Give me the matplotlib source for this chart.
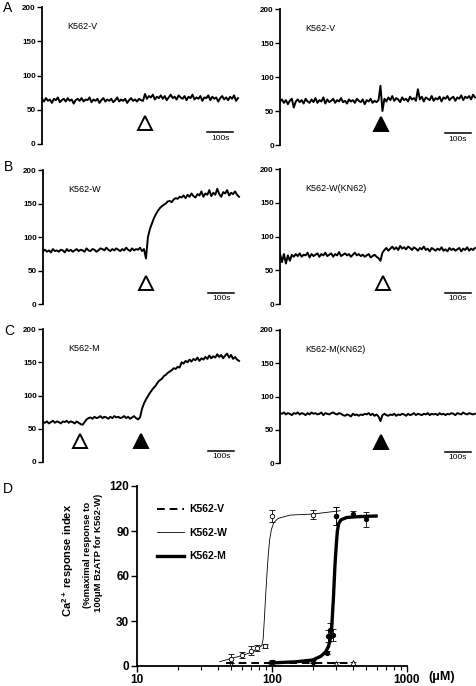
import numpy as np
import matplotlib
matplotlib.use('Agg')
import matplotlib.pyplot as plt
from matplotlib.lines import Line2D
from matplotlib.ticker import LogLocator, NullFormatter, FixedLocator, FixedFormatter

plt.rcParams['font.family'] = ['Liberation Sans', 'DejaVu Sans']
plt.rcParams['mathtext.fontset'] = 'custom'
plt.rcParams['mathtext.rm'] = 'Liberation Sans:bold'
plt.rcParams['mathtext.bf'] = 'Liberation Sans:bold'

# --- traces (fluorescence ratio, one sample every DT seconds) ---
DT = 7.6
trace_v = [66, 62, 67, 63, 65, 60, 66, 64, 68, 61, 64, 66, 62, 67, 63, 65, 59, 64, 66, 63,
           67, 62, 65, 64, 68, 61, 65, 63, 66, 60, 64, 67, 62, 65, 63, 66, 61, 64, 68, 62,
           65, 63, 66, 60, 64, 67, 63, 65, 62, 66, 64, 63, 73, 66, 70, 68, 72, 65, 69, 67,
           71, 66, 70, 64, 68, 72, 67, 69, 65, 71, 68, 66, 70, 64, 69, 67, 72, 65, 68, 66,
           70, 63, 68, 67, 71, 64, 69, 66, 68, 62, 67, 70, 65, 68, 64, 69, 66, 71, 63, 67]
trace_v2 = [64, 67, 62, 66, 60, 65, 68, 55, 64, 67, 63, 66, 61, 68, 64, 62, 67, 63, 69, 62,
            66, 64, 70, 61, 67, 63, 65, 68, 62, 66, 64, 69, 63, 65, 61, 67, 64, 66, 62, 68,
            65, 63, 67, 60, 66, 64, 68, 62, 65, 63, 66, 87, 50, 68, 64, 70, 66, 72, 65, 69,
            67, 63, 70, 66, 68, 64, 71, 67, 69, 65, 82, 67, 71, 64, 70, 68, 66, 72, 65, 69,
            67, 71, 64, 70, 68, 72, 66, 69, 71, 65, 70, 68, 73, 66, 71, 69, 72, 67, 74, 70]
trace_w = [79, 81, 78, 80, 77, 82, 79, 80, 78, 81, 80, 77, 82, 79, 81, 78, 80, 82, 79, 81,
           80, 78, 83, 80, 79, 82, 81, 78, 80, 83, 82, 80, 84, 81, 79, 82, 80, 83, 81, 79,
           82, 80, 84, 81, 79, 83, 80, 82, 81, 84, 79, 82, 68, 100, 112, 120, 128, 134, 139, 143,
           146, 148, 150, 153, 154, 152, 156, 158, 157, 160, 159, 162, 158, 163, 160, 165, 161, 159, 164, 162,
           168, 160, 165, 163, 170, 161, 166, 163, 172, 164, 160, 167, 165, 170, 162, 166, 164, 168, 163, 160]
trace_w_kn62 = [75, 62, 74, 60, 72, 64, 73, 70, 74, 71, 75, 70, 73, 72, 76, 69, 74, 71, 73, 75,
                70, 74, 72, 76, 71, 73, 75, 70, 74, 72, 77, 71, 73, 75, 72, 74, 70, 73, 76, 72,
                74, 71, 73, 70, 72, 74, 69, 71, 73, 70, 68, 64, 76, 80, 83, 79, 82, 85, 81, 84,
                80, 86, 82, 84, 81, 85, 83, 80, 84, 82, 79, 83, 81, 85, 80, 82, 78, 83, 81, 79,
                82, 80, 84, 79, 81, 78, 83, 80, 82, 79, 81, 83, 78, 82, 80, 84, 79, 82, 80, 83]
trace_m = [60, 59, 61, 58, 60, 62, 59, 61, 60, 58, 61, 60, 62, 59, 61, 60, 58, 61, 59, 57,
           56, 60, 64, 66, 67, 65, 68, 66, 67, 69, 66, 68, 67, 65, 68, 66, 69, 67, 68, 66,
           67, 69, 66, 68, 65, 67, 69, 66, 64, 67, 80, 88, 94, 99, 104, 108, 112, 115, 120, 123,
           125, 129, 131, 134, 136, 138, 141, 140, 143, 142, 150, 148, 152, 150, 154, 151, 155, 153, 157, 152,
           156, 154, 158, 155, 160, 156, 159, 157, 162, 158, 161, 156, 160, 163, 157, 161, 155, 158, 154, 152]
trace_m_kn62 = [75, 74, 76, 73, 75, 74, 72, 75, 74, 76, 73, 75, 74, 72, 75, 73, 76, 74, 75, 73,
                74, 76, 72, 75, 74, 73, 75, 76, 74, 73, 75, 74, 72, 71, 73, 72, 70, 74, 72, 73,
                71, 73, 72, 74, 73, 75, 72, 74, 71, 73, 70, 63, 72, 74, 72, 71, 73, 72, 74, 71,
                73, 72, 74, 73, 71, 74, 72, 73, 75, 72, 74, 73, 72, 74, 73, 75, 72, 74, 73, 74,
                72, 75, 73, 74, 72, 74, 73, 75, 74, 72, 75, 74, 73, 76, 74, 73, 75, 74, 73, 74]

trace_labels = ['K562-V', 'K562-V', 'K562-W', 'K562-W(KN62)', 'K562-M', 'K562-M(KN62)']
# (time in s, filled?) of each agonist arrow
arrows = [[(396, False)], [(388, True)], [(396, False)], [(396, False)],
          [(142, False), (377, True)], [(388, True)]]
trace_yticks = [0, 50, 100, 150, 200]

# --- concentration response (panel D) ---
v_conc = [50, 100, 200, 300, 400]
v_resp = [1.0, 1.5, 1.0, 1.5, 2.0]
v_err = [1.0, 1.0, 1.0, 1.0, 1.0]
w_conc = [50, 60, 70, 78, 89, 100, 200, 297]
w_resp = [5, 7.3, 10.2, 11.8, 13.3, 100, 101, 100]
w_err = [3, 2, 3, 2, 1.5, 4, 3, 6]
m_conc = [100, 200, 255, 262, 270, 281, 297, 400, 500]
m_resp = [2.5, 3, 9, 20, 24, 21, 100, 101.5, 98]
m_err = [1.5, 1, 1, 4, 5, 4, 6, 2, 5]

v_fit_x = [46, 100, 200, 300, 412]
v_fit_y = [2, 2, 2, 2, 2]
w_fit_x = [41, 50, 60, 70, 78, 84, 86, 88, 90, 92, 94, 96, 99, 103, 111, 136, 200, 320]
w_fit_y = [2.9, 5, 7, 9, 11.5, 13.5, 18, 33, 49, 63, 75, 84, 91, 95.5, 98.4, 100.6, 101.3, 103.5]
m_fit_x = [97, 150, 200, 230, 250, 262, 270, 277, 285, 293, 300, 305, 312, 325, 357, 445, 590]
m_fit_y = [2, 2.8, 4, 6.5, 9.5, 13, 18, 26, 45, 68, 82, 90, 95, 97.5, 99, 99.6, 100]

W, H = 477, 686
fig = plt.figure(figsize=(W / 100, H / 100), dpi=100)


def px_axes(left, top, right, bottom):
    return fig.add_axes([left / W, 1 - bottom / H, (right - left) / W, (bottom - top) / H])


def trace_panel(rect, values, label, arrow_list):
    ax = px_axes(*rect)
    t = np.arange(len(values)) * DT
    ax.plot(t, values, color='k', lw=1.4)
    ax.set_xlim(0, 760)
    ax.set_ylim(0, 200)
    for s in ['top', 'right', 'bottom']:
        ax.spines[s].set_visible(False)
    ax.spines['left'].set_linewidth(1.3)
    ax.set_xticks([])
    ax.set_yticks(trace_yticks)
    ax.tick_params(axis='y', length=3.5, width=1.0, pad=1, labelsize=5.8)
    for lab in ax.get_yticklabels():
        lab.set_fontweight('bold')
    for ta, filled in arrow_list:
        ax.plot(ta, 31, marker='^', ms=10.5, mfc='k' if filled else 'w',
                mec='k', mew=1.4, clip_on=False)
    ax.plot([635, 735], [17, 17], color='k', lw=1.1)
    ax.text(685, 13, '100s', ha='center', va='top', fontsize=6)
    ax.text(96, 171, label, va='center', fontsize=6.5)
    return ax


traces = [trace_v, trace_v2, trace_w, trace_w_kn62, trace_m, trace_m_kn62]
rects = [(42, 7, 240, 144), (280, 9, 477, 145),
         (43, 170, 241, 304), (280, 169, 477, 304),
         (43, 329, 241, 462), (280, 330, 477, 463)]
for rect, vals, lab, arr in zip(rects, traces, trace_labels, arrows):
    trace_panel(rect, vals, lab, arr)

# --- panel D ---
axd = px_axes(137, 486, 407, 666)
axd.set_xscale('log')
axd.plot(v_fit_x, v_fit_y, color='k', lw=1.4, ls=(0, (4, 2.5)))
axd.plot(w_fit_x, w_fit_y, color='k', lw=0.6)
axd.plot(m_fit_x, m_fit_y, color='k', lw=2.4)
eb = dict(ecolor='k', elinewidth=0.6, capsize=2, capthick=0.6, mec='k', mew=0.6, ls='none')
axd.errorbar(v_conc, v_resp, yerr=v_err, fmt='^', ms=4, mfc='white', **eb)
axd.errorbar(w_conc, w_resp, yerr=w_err, fmt='o', ms=3.2, mfc='white', **eb)
axd.errorbar(m_conc, m_resp, yerr=m_err, fmt='o', ms=3.2, mfc='k', **eb)
axd.set_xlim(10, 1000)
axd.set_ylim(0, 120)
for s in ['top', 'right']:
    axd.spines[s].set_visible(False)
for s in ['left', 'bottom']:
    axd.spines[s].set_linewidth(1.3)
axd.set_yticks([0, 30, 60, 90, 120])
axd.xaxis.set_major_locator(FixedLocator([10, 100, 1000]))
axd.xaxis.set_major_formatter(FixedFormatter(['10', '100', '1000']))
axd.xaxis.set_minor_locator(LogLocator(base=10, subs=np.arange(2, 10)))
axd.xaxis.set_minor_formatter(NullFormatter())
axd.tick_params(axis='both', which='major', length=4, width=1.0, labelsize=8.5, pad=1.5)
axd.tick_params(axis='x', which='minor', length=3, width=0.8)
for lab in axd.get_xticklabels() + axd.get_yticklabels():
    lab.set_fontweight('bold')

handles = [Line2D([], [], color='k', lw=1.4, ls=(0, (4, 2.5))),
           Line2D([], [], color='k', lw=0.6),
           Line2D([], [], color='k', lw=2.4)]
axd.legend(handles, ['K562-V', 'K562-W', 'K562-M'], loc='upper left',
           bbox_to_anchor=(0.04, 0.95), frameon=False, handlelength=2.6,
           handletextpad=0.5, labelspacing=1.3,
           prop={'weight': 'bold', 'size': 7.5})

fig.text(68 / W, 1 - 560 / H, 'Ca$^{2+}$ response index', rotation=90,
         ha='center', va='center', fontsize=8, fontweight='bold')
fig.text(88 / W, 1 - 555 / H, '(%maximal response to', rotation=90,
         ha='center', va='center', fontsize=6.8, fontweight='bold')
fig.text(99 / W, 1 - 553 / H, '100\u03bcM BzATP for K562-W)', rotation=90,
         ha='center', va='center', fontsize=6.8, fontweight='bold')
fig.text(428 / W, 1 - 677 / H, '(\u03bcM)', ha='left', va='center',
         fontsize=9, fontweight='bold')

for letter, (x, y) in zip('ABCD', [(3, 8), (4, 167), (4, 331), (3, 489)]):
    fig.text(x / W, 1 - y / H, letter, ha='left', va='center', fontsize=10)

fig.savefig('out.png', dpi=100)
